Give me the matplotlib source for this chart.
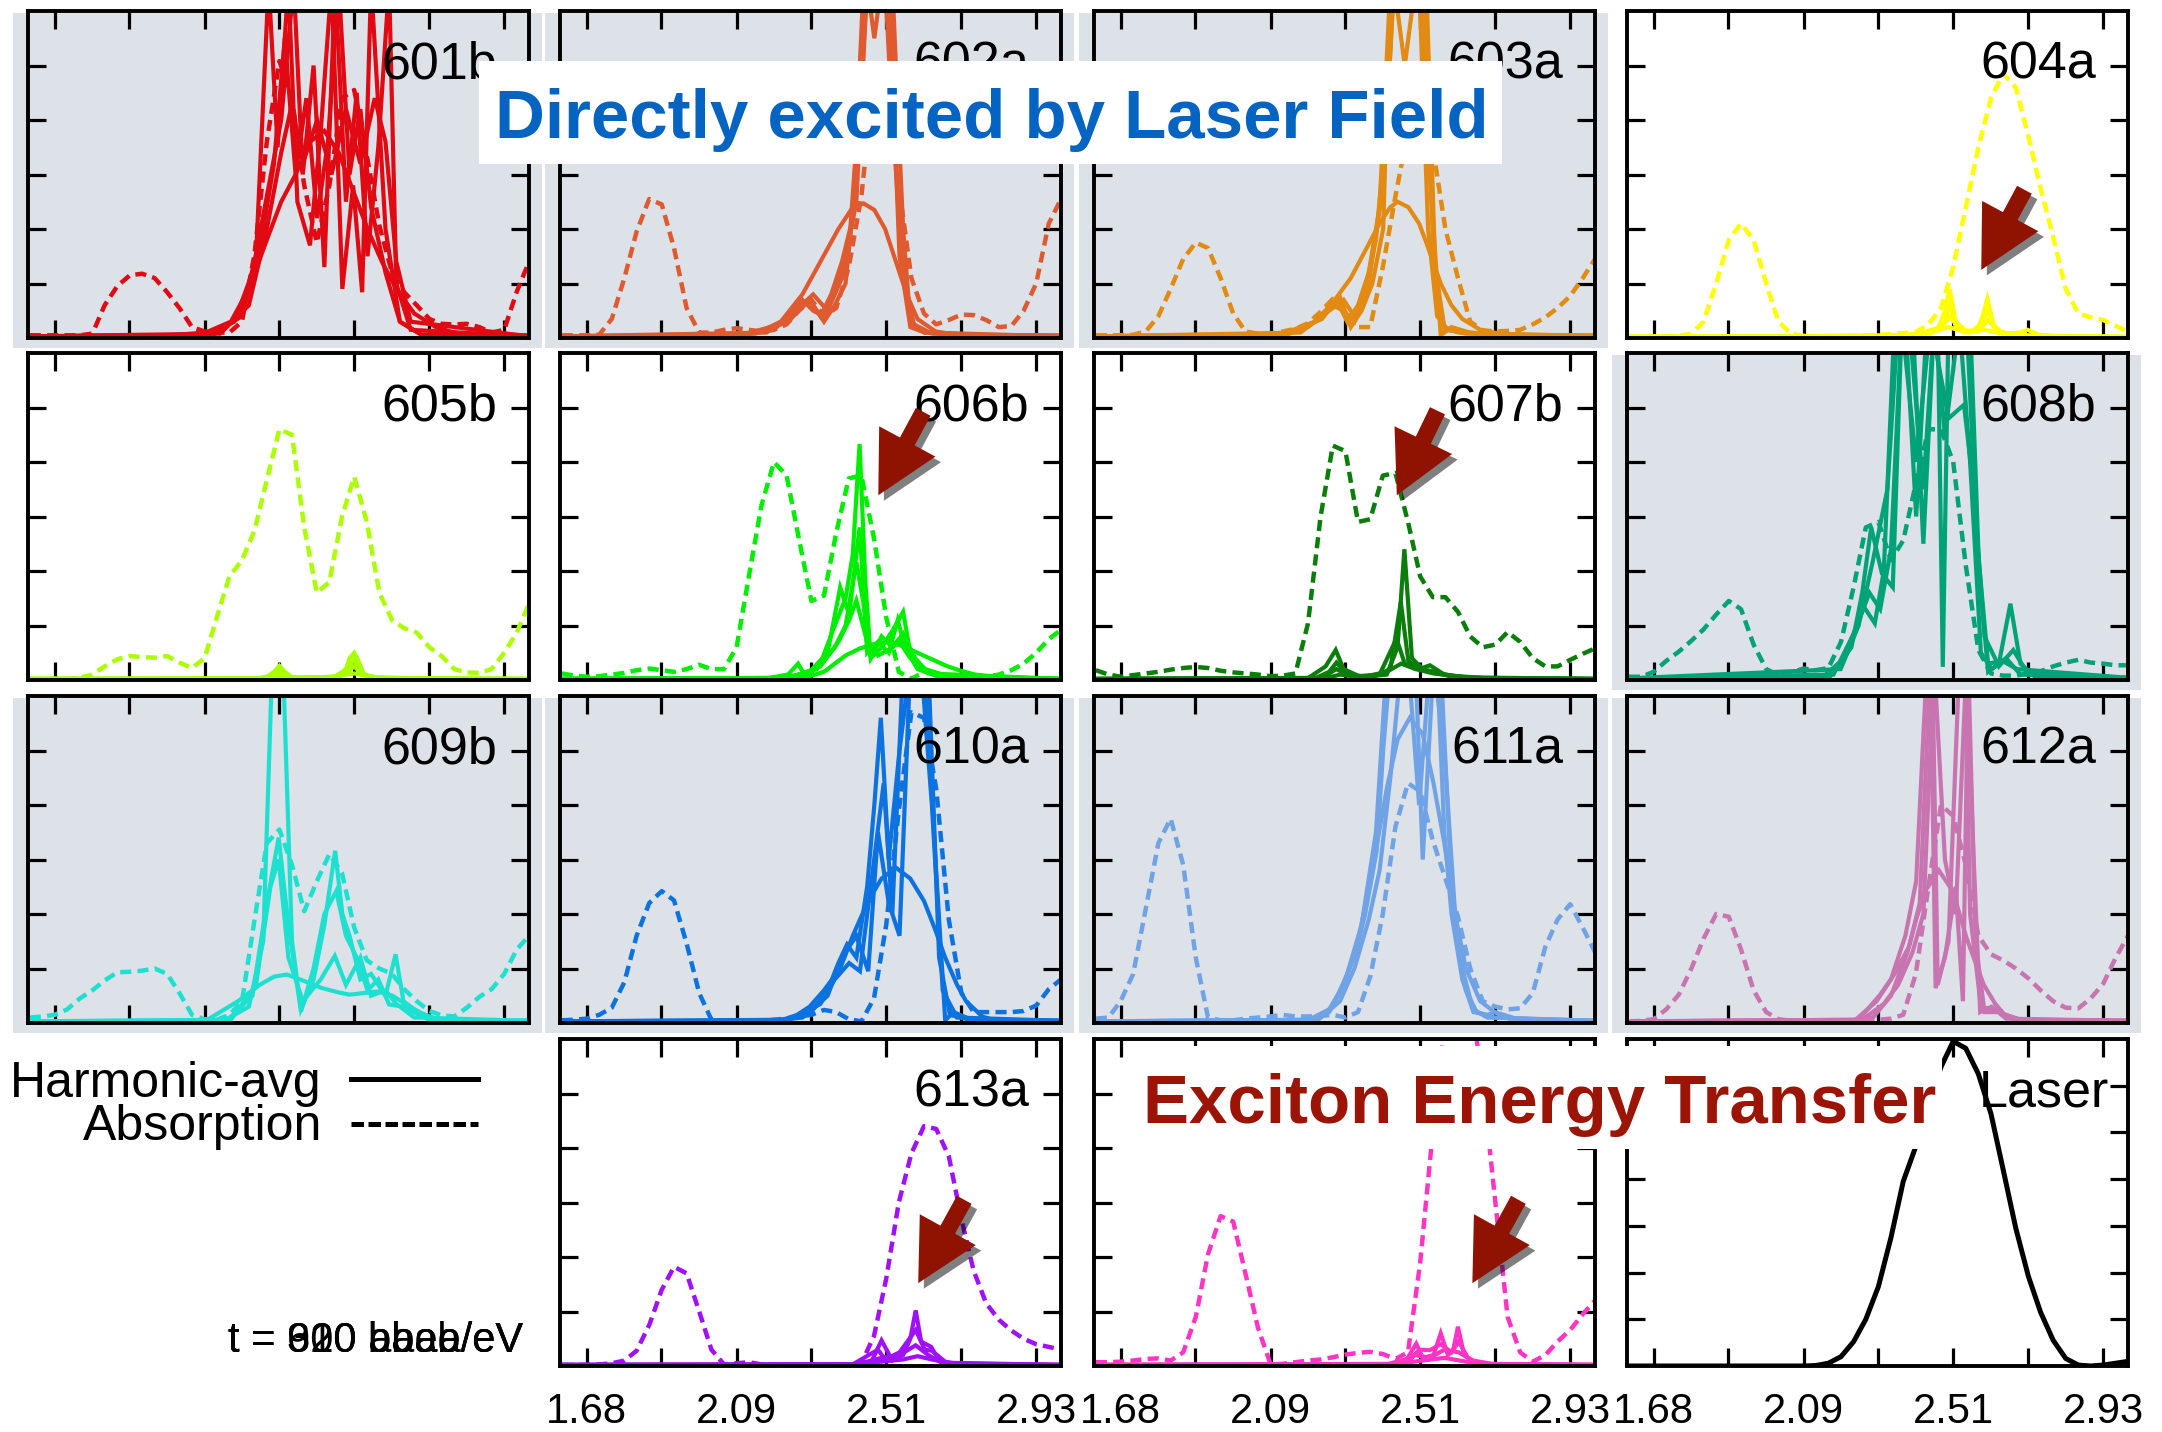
import matplotlib
matplotlib.use('Agg')
import matplotlib.pyplot as plt
from matplotlib.patches import Rectangle
from matplotlib.lines import Line2D
import matplotlib.patheffects as pe

plt.rcParams['font.family'] = ['Liberation Sans', 'DejaVu Sans']

W, H = 2162, 1432

# ---------------- data ----------------
ABS_X = [1.611, 1.646, 1.680, 1.715, 1.750, 1.785, 1.819, 1.854, 1.889, 1.923, 1.958,
         1.993, 2.027, 2.062, 2.097, 2.131, 2.166, 2.201, 2.236, 2.270, 2.305, 2.340,
         2.374, 2.409, 2.444, 2.479, 2.513, 2.548, 2.583, 2.618, 2.652, 2.687, 2.722,
         2.756, 2.791, 2.826, 2.861, 2.895, 2.930, 2.965, 2.999]

XTICKS = [1.680, 1.888, 2.097, 2.305, 2.513, 2.722, 2.930]
XTICK_LABELS = ['1.68', '', '2.09', '', '2.51', '', '2.93']

ABS_601B = [0.05, 0.05, 0.05, 0.05, 0.05, 0.08, 0.6, 0.95, 1.15, 1.18, 1.1, 0.84, 0.55, 0.2,
            0.12, 0.1, 0.1, 0.3, 1.55, 3.6, 5.08, 4.4, 2.8, 1.75, 2.8, 4.4, 4.55, 3.35, 2.06,
            1.2, 0.84, 0.6, 0.35, 0.26, 0.25, 0.26, 0.2, 0.1, 0.15, 0.85, 1.4]
ABS_602A = [0.05, 0.05, 0.05, 0.06, 0.35, 1.1, 1.95, 2.55, 2.45, 1.65, 0.55, 0.1, 0.1, 0.15,
            0.18, 0.15, 0.12, 0.15, 0.25, 0.5, 0.7, 0.4, 0.55, 1.3, 2.6, 4.8, 5.0, 2.8, 1.1,
            0.45, 0.25, 0.33, 0.43, 0.42, 0.33, 0.2, 0.22, 0.5, 1.0, 2.1, 2.55]
ABS_603A = [0.05, 0.05, 0.05, 0.06, 0.12, 0.4, 0.9, 1.45, 1.75, 1.65, 1.1, 0.45, 0.12, 0.08,
            0.08, 0.12, 0.17, 0.27, 0.48, 0.72, 0.62, 0.2, 0.2, 1.3, 2.6, 3.8, 4.2, 3.5, 2.0,
            1.1, 0.3, 0.14, 0.12, 0.13, 0.15, 0.25, 0.38, 0.55, 0.77, 1.1, 1.45]
ABS_604A = [0.03, 0.03, 0.03, 0.03, 0.04, 0.08, 0.3, 1.0, 1.8, 2.1, 1.8, 1.0, 0.3, 0.08,
            0.04, 0.03, 0.03, 0.03, 0.04, 0.05, 0.06, 0.07, 0.09, 0.11, 0.25, 0.55, 1.3, 2.4,
            3.5, 4.4, 4.85, 4.6, 3.7, 2.75, 1.85, 0.9, 0.45, 0.38, 0.33, 0.22, 0.12]
ABS_605B = [0.02, 0.02, 0.02, 0.02, 0.04, 0.1, 0.25, 0.38, 0.44, 0.42, 0.41, 0.44, 0.32, 0.22,
            0.4, 1.15, 1.9, 2.2, 2.75, 3.67, 4.6, 4.5, 2.8, 1.6, 1.8, 3.0, 3.73, 2.9, 1.6, 1.1,
            0.95, 0.87, 0.6, 0.44, 0.2, 0.14, 0.13, 0.2, 0.5, 0.87, 1.4]
ABS_606B = [0.12, 0.08, 0.06, 0.07, 0.1, 0.13, 0.18, 0.21, 0.18, 0.15, 0.2, 0.28, 0.2, 0.2,
            0.6, 1.9, 3.2, 4.0, 3.75, 2.6, 1.45, 1.55, 2.7, 3.7, 3.75, 2.6, 1.15, 0.15, 0.02,
            0.15, 0.14, 0.08, 0.06, 0.05, 0.06, 0.1, 0.18, 0.3, 0.5, 0.75, 0.92]
ABS_607B = [0.18, 0.1, 0.06, 0.09, 0.12, 0.15, 0.19, 0.22, 0.24, 0.22, 0.17, 0.14, 0.12, 0.1,
            0.07, 0.08, 0.12, 1.04, 3.0, 4.3, 4.2, 2.9, 2.95, 3.75, 3.8, 2.9, 1.9, 1.52, 1.52,
            1.25, 0.8, 0.6, 0.65, 0.88, 0.7, 0.4, 0.25, 0.25, 0.37, 0.48, 0.58]
ABS_608B = [0.06, 0.06, 0.15, 0.35, 0.52, 0.72, 0.93, 1.2, 1.45, 1.3, 0.65, 0.2, 0.09, 0.14,
            0.21, 0.18, 0.22, 0.7, 1.7, 2.8, 2.9, 2.2, 2.56, 3.6, 4.6, 4.6, 4.0, 2.1, 0.55, 0.12,
            0.08, 0.08, 0.12, 0.16, 0.25, 0.32, 0.37, 0.32, 0.3, 0.27, 0.27]
ABS_609B = [0.1, 0.12, 0.15, 0.25, 0.45, 0.6, 0.78, 0.93, 0.94, 0.96, 1.0, 0.9, 0.55, 0.15,
            0.07, 0.06, 0.15, 0.4, 1.9, 3.3, 3.55, 2.9, 2.05, 2.6, 3.1, 2.75, 1.75, 1.15, 1.0,
            0.9, 0.62, 0.4, 0.22, 0.14, 0.12, 0.28, 0.48, 0.62, 0.9, 1.35, 1.6]
ABS_610A = [0.05, 0.06, 0.08, 0.15, 0.28, 0.75, 1.6, 2.2, 2.42, 2.25, 1.46, 0.55, 0.06, 0.03,
            0.03, 0.03, 0.04, 0.06, 0.08, 0.12, 0.15, 0.24, 0.2, 0.07, 0.03, 0.45, 1.8, 3.9, 5.7,
            5.6, 4.3, 1.9, 0.55, 0.2, 0.2, 0.2, 0.2, 0.22, 0.32, 0.62, 0.8]
ABS_611A = [0.08, 0.1, 0.4, 0.9, 2.1, 3.3, 3.75, 2.9, 1.2, 0.1, 0.05, 0.05, 0.08, 0.1, 0.12,
            0.15, 0.12, 0.12, 0.13, 0.15, 0.1, 0.2, 0.85, 2.0, 3.6, 4.4, 4.25, 3.35, 2.65, 1.95,
            1.0, 0.4, 0.3, 0.25, 0.27, 0.55, 1.4, 1.9, 2.18, 1.75, 1.3]
ABS_612A = [0.03, 0.04, 0.07, 0.25, 0.52, 1.0, 1.55, 2.0, 1.95, 1.35, 0.6, 0.2, 0.07, 0.04,
            0.03, 0.03, 0.03, 0.03, 0.04, 0.05, 0.06, 0.08, 0.15, 0.9, 2.5, 4.0, 3.8, 2.9, 1.6,
            1.26, 1.15, 1.0, 0.82, 0.6, 0.4, 0.28, 0.27, 0.45, 0.72, 1.2, 1.6]
ABS_613A = [0.02, 0.02, 0.02, 0.03, 0.05, 0.1, 0.28, 0.75, 1.4, 1.82, 1.7, 1.0, 0.3, 0.03,
            0.05, 0.07, 0.03, 0.02, 0.02, 0.02, 0.02, 0.02, 0.03, 0.03, 0.05, 0.55, 1.6, 3.0,
            3.9, 4.4, 4.35, 3.85, 2.7, 1.75, 1.15, 0.85, 0.65, 0.5, 0.4, 0.35, 0.3]
ABS_614A = [0.07, 0.07, 0.08, 0.1, 0.13, 0.14, 0.1, 0.25, 0.9, 2.05, 2.75, 2.65, 1.7, 0.7,
            0.03, 0.04, 0.07, 0.1, 0.12, 0.16, 0.21, 0.24, 0.26, 0.22, 0.13, 0.25, 1.9, 4.3,
            6.4, 7.2, 6.8, 5.2, 3.0, 0.9, 0.25, 0.08, 0.2, 0.45, 0.66, 0.95, 1.2]
LASER = [0, 0, 0, 0, 0, 0, 0, 0, 0, 0, 0, 0, 0, 0, 0, 0.01, 0.06, 0.2, 0.52, 1.0, 1.7, 2.75,
         3.95, 4.7, 5.6, 6.4, 6.95, 6.8, 6.25, 5.4, 4.2, 2.95, 1.92, 1.15, 0.55, 0.16, 0.02,
         0.0, 0.02, 0.06, 0.1]

# harmonic-averaged spectra: (x, y) polylines per panel
HARM_601B = [
    ([1.61, 2.05, 2.15, 2.20, 2.24, 2.275, 2.30, 2.33, 2.355, 2.39, 2.42, 2.45, 2.48, 2.51, 2.535, 2.56, 2.60, 2.64, 2.70, 3.0],
     [0.03, 0.05, 0.15, 0.5, 1.5, 6.5, 3.5, 6.5, 2.5, 1.7, 3.8, 6.5, 0.9, 2.8, 0.84, 6.5, 2.0, 0.3, 0.06, 0.03]),
    ([1.61, 2.10, 2.18, 2.23, 2.27, 2.31, 2.345, 2.37, 2.40, 2.43, 2.46, 2.49, 2.52, 2.55, 2.58, 2.61, 2.63, 2.67, 3.0],
     [0.03, 0.05, 0.3, 1.2, 2.6, 4.0, 6.5, 3.0, 5.0, 1.3, 6.5, 2.5, 4.5, 1.5, 3.5, 6.5, 1.0, 0.15, 0.03]),
    ([1.61, 2.12, 2.20, 2.25, 2.29, 2.32, 2.35, 2.38, 2.41, 2.44, 2.47, 2.50, 2.53, 2.56, 2.60, 2.64, 2.70, 3.0],
     [0.03, 0.06, 0.4, 1.6, 3.2, 5.5, 3.0, 4.4, 2.2, 3.6, 6.5, 3.0, 4.2, 2.4, 1.2, 0.3, 0.06, 0.03]),
    ([1.61, 2.14, 2.22, 2.27, 2.31, 2.34, 2.37, 2.41, 2.45, 2.49, 2.53, 2.57, 2.60, 2.63, 2.67, 3.0],
     [0.03, 0.08, 0.6, 2.0, 3.4, 4.3, 3.2, 4.0, 3.0, 4.2, 3.2, 4.4, 3.6, 1.4, 0.3, 0.03]),
    ([1.61, 2.00, 2.10, 2.17, 2.22, 2.27, 2.31, 2.35, 2.39, 2.43, 2.47, 2.51, 2.55, 2.59, 2.63, 2.68, 2.74, 2.80, 3.0],
     [0.03, 0.05, 0.1, 0.3, 0.9, 1.8, 2.5, 3.0, 3.6, 3.8, 3.4, 2.7, 2.0, 1.4, 0.9, 0.45, 0.2, 0.08, 0.05]),
]
HARM_602A = [
    ([1.61, 2.10, 2.20, 2.26, 2.30, 2.34, 2.37, 2.40, 2.43, 2.46, 2.49, 2.51, 2.53, 2.56, 2.58, 2.62, 2.70, 2.80, 3.0],
     [0.03, 0.04, 0.15, 0.5, 0.7, 0.3, 0.6, 1.0, 3.0, 6.5, 6.5, 6.5, 6.5, 2.0, 0.3, 0.1, 0.08, 0.05, 0.05]),
    ([1.61, 2.10, 2.22, 2.28, 2.31, 2.34, 2.38, 2.41, 2.44, 2.46, 2.48, 2.50, 2.52, 2.55, 2.58, 2.62, 2.72, 3.0],
     [0.03, 0.04, 0.25, 0.7, 0.5, 0.4, 1.0, 1.7, 4.5, 6.5, 5.5, 6.5, 6.5, 1.5, 0.2, 0.1, 0.06, 0.04]),
    ([1.61, 2.12, 2.24, 2.30, 2.33, 2.36, 2.39, 2.42, 2.45, 2.48, 2.51, 2.53, 2.56, 2.59, 2.64, 3.0],
     [0.03, 0.05, 0.3, 0.7, 0.4, 0.8, 1.4, 2.2, 6.5, 6.5, 6.5, 4.0, 1.2, 0.25, 0.08, 0.03]),
    ([1.61, 2.15, 2.22, 2.28, 2.33, 2.38, 2.42, 2.45, 2.48, 2.51, 2.54, 2.57, 2.60, 2.65, 2.72, 3.0],
     [0.03, 0.08, 0.3, 0.8, 1.4, 2.0, 2.4, 2.47, 2.35, 2.0, 1.4, 0.8, 0.35, 0.12, 0.05, 0.03]),
    ([1.61, 2.18, 2.26, 2.31, 2.35, 2.39, 2.43, 2.46, 2.49, 2.52, 2.55, 2.58, 2.62, 3.0],
     [0.03, 0.1, 0.5, 0.8, 0.5, 1.1, 2.5, 6.5, 6.5, 6.5, 1.8, 0.3, 0.1, 0.03]),
]
HARM_603A = [
    ([1.61, 2.10, 2.20, 2.25, 2.29, 2.32, 2.35, 2.38, 2.41, 2.43, 2.46, 2.49, 2.52, 2.54, 2.57, 2.60, 2.65, 2.75, 3.0],
     [0.03, 0.04, 0.2, 0.45, 0.75, 0.2, 0.5, 1.0, 2.0, 6.5, 6.5, 6.5, 6.5, 3.0, 0.05, 0.2, 0.1, 0.06, 0.05]),
    ([1.61, 2.12, 2.22, 2.27, 2.30, 2.33, 2.36, 2.39, 2.42, 2.44, 2.47, 2.50, 2.53, 2.555, 2.58, 2.62, 2.70, 3.0],
     [0.03, 0.05, 0.3, 0.6, 0.5, 0.3, 0.9, 1.8, 4.0, 6.5, 5.0, 6.5, 6.5, 1.2, 0.15, 0.12, 0.06, 0.04]),
    ([1.61, 2.14, 2.24, 2.28, 2.31, 2.34, 2.37, 2.40, 2.43, 2.45, 2.48, 2.51, 2.535, 2.56, 2.59, 2.64, 3.0],
     [0.03, 0.06, 0.35, 0.7, 0.3, 0.6, 1.2, 2.4, 6.5, 6.5, 6.5, 6.5, 2.0, 0.4, 0.15, 0.08, 0.03]),
    ([1.61, 2.15, 2.22, 2.27, 2.32, 2.36, 2.40, 2.43, 2.45, 2.48, 2.51, 2.53, 2.57, 2.60, 2.63, 2.68, 2.75, 3.0],
     [0.03, 0.08, 0.3, 0.65, 1.1, 1.6, 2.1, 2.4, 2.5, 2.4, 2.1, 1.75, 1.0, 0.6, 0.35, 0.15, 0.06, 0.03]),
    ([1.61, 2.18, 2.26, 2.30, 2.33, 2.37, 2.41, 2.44, 2.47, 2.50, 2.52, 2.55, 2.58, 2.62, 3.0],
     [0.03, 0.1, 0.5, 0.7, 0.4, 1.0, 2.8, 6.5, 6.5, 6.5, 6.5, 1.5, 0.2, 0.1, 0.03]),
]
HARM_604A = [
    ([1.61, 2.30, 2.42, 2.47, 2.49, 2.503, 2.52, 2.55, 2.58, 2.595, 2.608, 2.625, 2.65, 2.70, 2.80, 3.0],
     [0.02, 0.03, 0.06, 0.15, 0.5, 0.9, 0.3, 0.12, 0.15, 0.4, 0.72, 0.25, 0.08, 0.05, 0.03, 0.02]),
    ([1.61, 2.35, 2.45, 2.49, 2.505, 2.52, 2.56, 2.59, 2.61, 2.63, 2.68, 3.0],
     [0.02, 0.03, 0.08, 0.3, 0.65, 0.2, 0.1, 0.25, 0.52, 0.15, 0.05, 0.02]),
    ([1.61, 2.40, 2.48, 2.505, 2.53, 2.58, 2.61, 2.64, 2.70, 3.0],
     [0.02, 0.05, 0.2, 0.4, 0.15, 0.12, 0.33, 0.1, 0.04, 0.02]),
    ([1.61, 2.30, 2.40, 2.46, 2.50, 2.55, 2.60, 2.65, 2.70, 2.72, 2.75, 2.80, 3.0],
     [0.02, 0.04, 0.07, 0.12, 0.2, 0.1, 0.15, 0.08, 0.1, 0.15, 0.06, 0.03, 0.02]),
]
HARM_605B = [
    ([1.61, 2.20, 2.27, 2.29, 2.305, 2.32, 2.34, 2.40, 2.46, 2.49, 2.50, 2.513, 2.525, 2.54, 2.58, 2.70, 3.0],
     [0.02, 0.02, 0.05, 0.15, 0.26, 0.15, 0.05, 0.04, 0.06, 0.2, 0.4, 0.5, 0.35, 0.1, 0.04, 0.02, 0.02]),
    ([1.61, 2.25, 2.29, 2.305, 2.32, 2.36, 2.46, 2.495, 2.513, 2.53, 2.56, 3.0],
     [0.02, 0.03, 0.1, 0.2, 0.08, 0.03, 0.05, 0.2, 0.38, 0.15, 0.04, 0.02]),
    ([1.61, 2.26, 2.305, 2.34, 2.47, 2.50, 2.513, 2.535, 2.58, 3.0],
     [0.02, 0.03, 0.12, 0.04, 0.05, 0.18, 0.25, 0.1, 0.03, 0.02]),
    ([1.61, 2.25, 2.305, 2.36, 2.45, 2.513, 2.57, 2.70, 3.0],
     [0.02, 0.03, 0.07, 0.04, 0.06, 0.12, 0.05, 0.03, 0.02]),
]
HARM_606B = [
    ([1.61, 2.18, 2.24, 2.268, 2.29, 2.33, 2.37, 2.40, 2.42, 2.439, 2.455, 2.47, 2.50, 2.53, 2.56, 2.58, 2.62, 2.68, 2.80, 3.0],
     [0.02, 0.03, 0.1, 0.3, 0.05, 0.3, 1.0, 1.5, 2.3, 4.33, 1.8, 0.4, 0.6, 0.9, 1.25, 0.5, 0.2, 0.08, 0.03, 0.02]),
    ([1.61, 2.22, 2.30, 2.35, 2.385, 2.41, 2.439, 2.46, 2.49, 2.52, 2.545, 2.565, 2.60, 2.66, 3.0],
     [0.02, 0.03, 0.15, 0.5, 1.7, 1.2, 2.8, 0.5, 0.7, 0.5, 1.1, 0.6, 0.2, 0.06, 0.02]),
    ([1.61, 2.24, 2.32, 2.37, 2.40, 2.43, 2.45, 2.47, 2.50, 2.53, 2.56, 2.60, 2.65, 3.0],
     [0.02, 0.04, 0.2, 0.6, 1.0, 2.16, 1.4, 0.4, 0.8, 0.6, 0.85, 0.3, 0.08, 0.02]),
    ([1.61, 2.25, 2.33, 2.38, 2.41, 2.43, 2.46, 2.49, 2.52, 2.55, 2.58, 2.63, 3.0],
     [0.02, 0.04, 0.25, 0.7, 1.1, 1.46, 0.7, 0.45, 0.55, 0.7, 0.4, 0.12, 0.02]),
    ([1.61, 2.20, 2.29, 2.34, 2.37, 2.40, 2.44, 2.48, 2.52, 2.56, 2.60, 2.64, 2.68, 2.72, 2.76, 2.82, 3.0],
     [0.02, 0.03, 0.05, 0.15, 0.3, 0.45, 0.58, 0.66, 0.7, 0.62, 0.5, 0.38, 0.26, 0.17, 0.1, 0.05, 0.02]),
]
HARM_607B = [
    ([1.61, 2.20, 2.25, 2.278, 2.30, 2.35, 2.42, 2.45, 2.469, 2.49, 2.52, 2.55, 2.60, 2.70, 3.0],
     [0.02, 0.03, 0.25, 0.55, 0.2, 0.05, 0.1, 0.6, 2.4, 0.4, 0.2, 0.15, 0.06, 0.03, 0.02]),
    ([1.61, 2.22, 2.26, 2.28, 2.31, 2.38, 2.43, 2.459, 2.48, 2.51, 2.54, 2.58, 2.65, 3.0],
     [0.02, 0.03, 0.15, 0.32, 0.1, 0.05, 0.2, 1.43, 0.35, 0.2, 0.27, 0.1, 0.04, 0.02]),
    ([1.61, 2.24, 2.28, 2.32, 2.40, 2.447, 2.47, 2.50, 2.55, 2.62, 3.0],
     [0.02, 0.04, 0.2, 0.06, 0.1, 0.76, 0.3, 0.22, 0.15, 0.05, 0.02]),
    ([1.61, 2.25, 2.29, 2.35, 2.42, 2.46, 2.50, 2.55, 2.60, 2.70, 3.0],
     [0.02, 0.03, 0.1, 0.05, 0.15, 0.3, 0.2, 0.12, 0.08, 0.03, 0.02]),
]
HARM_608B = [
    ([1.61, 2.15, 2.21, 2.25, 2.265, 2.295, 2.32, 2.35, 2.38, 2.41, 2.44, 2.47, 2.484, 2.50, 2.56, 2.585, 2.61, 2.64, 2.672, 2.70, 2.74, 3.0],
     [0.03, 0.05, 0.4, 1.1, 1.34, 1.04, 2.0, 6.6, 6.6, 3.0, 6.6, 6.6, 0.24, 6.6, 6.6, 2.0, 0.15, 0.3, 1.4, 0.3, 0.06, 0.04]),
    ([1.61, 2.17, 2.23, 2.26, 2.285, 2.315, 2.345, 2.37, 2.40, 2.43, 2.46, 2.49, 2.53, 2.56, 2.59, 2.62, 2.66, 2.70, 3.0],
     [0.03, 0.06, 0.6, 1.6, 2.8, 1.95, 1.7, 6.6, 6.6, 2.5, 6.6, 4.5, 6.6, 4.0, 0.5, 0.2, 0.4, 0.1, 0.04]),
    ([1.61, 2.18, 2.24, 2.28, 2.31, 2.34, 2.37, 2.41, 2.45, 2.50, 2.543, 2.57, 2.60, 2.64, 2.68, 2.72, 3.0],
     [0.03, 0.1, 0.9, 1.6, 1.3, 2.4, 6.6, 4.0, 6.6, 4.8, 5.05, 3.5, 0.8, 0.25, 0.55, 0.12, 0.04]),
    ([1.61, 2.20, 2.25, 2.29, 2.33, 2.36, 2.39, 2.43, 2.46, 2.50, 2.55, 2.58, 2.61, 2.65, 2.69, 3.0],
     [0.03, 0.2, 1.0, 2.2, 3.5, 6.6, 6.6, 3.5, 6.6, 6.6, 6.6, 2.5, 0.3, 0.35, 0.2, 0.04]),
]
HARM_609B = [
    ([1.61, 2.15, 2.22, 2.26, 2.285, 2.30, 2.315, 2.34, 2.365, 2.40, 2.43, 2.46, 2.48, 2.50, 2.53, 2.56, 2.60, 2.628, 2.65, 2.70, 2.76, 3.0],
     [0.03, 0.04, 0.3, 1.5, 6.6, 6.6, 6.6, 1.5, 0.25, 0.8, 1.8, 3.16, 2.0, 1.6, 0.8, 0.9, 0.5, 1.26, 0.4, 0.15, 0.05, 0.04]),
    ([1.61, 2.16, 2.23, 2.27, 2.303, 2.33, 2.365, 2.40, 2.43, 2.463, 2.49, 2.52, 2.55, 2.58, 2.61, 2.65, 2.72, 3.0],
     [0.03, 0.05, 0.5, 2.2, 3.4, 1.8, 0.21, 1.0, 2.0, 2.42, 1.6, 1.2, 0.6, 0.8, 0.34, 0.3, 0.06, 0.04]),
    ([1.61, 2.17, 2.24, 2.28, 2.303, 2.33, 2.37, 2.42, 2.459, 2.49, 2.53, 2.56, 2.60, 2.63, 2.68, 3.0],
     [0.03, 0.06, 0.7, 2.5, 3.0, 1.2, 0.4, 0.8, 1.23, 0.7, 1.2, 0.5, 0.6, 0.35, 0.1, 0.04]),
    ([1.61, 2.10, 2.19, 2.25, 2.29, 2.326, 2.37, 2.424, 2.47, 2.50, 2.54, 2.58, 2.62, 2.657, 2.70, 2.735, 2.80, 3.0],
     [0.03, 0.04, 0.4, 0.7, 0.85, 0.89, 0.78, 0.64, 0.56, 0.52, 0.55, 0.58, 0.5, 0.34, 0.18, 0.09, 0.05, 0.04]),
]
HARM_610A = [
    ([1.61, 2.20, 2.28, 2.31, 2.35, 2.38, 2.404, 2.43, 2.46, 2.48, 2.498, 2.52, 2.55, 2.58, 2.62, 2.65, 2.677, 2.70, 2.75, 3.0],
     [0.03, 0.04, 0.1, 0.25, 0.6, 1.1, 1.44, 1.2, 2.5, 4.0, 5.6, 3.0, 5.0, 6.6, 6.6, 3.0, 0.05, 0.2, 0.06, 0.04]),
    ([1.61, 2.22, 2.29, 2.33, 2.37, 2.41, 2.44, 2.47, 2.506, 2.53, 2.56, 2.60, 2.63, 2.66, 2.69, 2.75, 3.0],
     [0.03, 0.05, 0.2, 0.35, 0.8, 1.1, 0.95, 2.5, 4.4, 2.0, 6.6, 6.6, 6.6, 1.2, 0.15, 0.05, 0.04]),
    ([1.61, 2.24, 2.30, 2.35, 2.39, 2.43, 2.463, 2.49, 2.52, 2.55, 2.58, 2.61, 2.64, 2.67, 2.71, 3.0],
     [0.03, 0.06, 0.2, 0.5, 1.2, 1.6, 0.95, 3.5, 2.2, 1.6, 6.6, 6.6, 4.0, 0.6, 0.1, 0.04]),
    ([1.61, 2.20, 2.249, 2.30, 2.34, 2.385, 2.42, 2.463, 2.50, 2.54, 2.58, 2.618, 2.65, 2.677, 2.71, 2.735, 2.78, 2.813, 3.0],
     [0.03, 0.04, 0.08, 0.3, 0.6, 1.0, 1.6, 2.24, 2.65, 2.85, 2.65, 2.24, 1.7, 1.2, 0.7, 0.4, 0.12, 0.05, 0.04]),
]
HARM_611A = [
    ([1.61, 2.20, 2.26, 2.30, 2.334, 2.36, 2.392, 2.41, 2.43, 2.46, 2.50, 2.53, 2.56, 2.58, 2.60, 2.63, 2.661, 2.70, 2.72, 2.76, 3.0],
     [0.03, 0.05, 0.2, 0.7, 1.3, 2.0, 3.16, 5.0, 6.6, 6.6, 6.6, 6.6, 6.6, 3.5, 2.0, 0.8, 0.2, 0.15, 0.2, 0.08, 0.04]),
    ([1.61, 2.22, 2.27, 2.31, 2.35, 2.39, 2.42, 2.45, 2.48, 2.51, 2.54, 2.57, 2.60, 2.63, 2.66, 2.70, 3.0],
     [0.03, 0.06, 0.3, 0.9, 1.8, 3.5, 6.6, 6.6, 6.6, 4.0, 6.6, 6.6, 2.5, 1.0, 0.25, 0.1, 0.04]),
    ([1.61, 2.23, 2.29, 2.33, 2.37, 2.40, 2.43, 2.46, 2.50, 2.52, 2.55, 2.58, 2.61, 2.64, 2.67, 2.72, 3.0],
     [0.03, 0.06, 0.4, 1.0, 1.9, 2.8, 4.5, 6.6, 6.6, 3.0, 6.6, 5.0, 2.0, 0.6, 0.2, 0.1, 0.04]),
    ([1.61, 2.20, 2.26, 2.30, 2.34, 2.38, 2.42, 2.45, 2.484, 2.52, 2.55, 2.58, 2.61, 2.64, 2.68, 2.72, 2.78, 3.0],
     [0.03, 0.05, 0.25, 0.7, 1.5, 2.8, 4.3, 5.2, 5.6, 5.3, 4.4, 3.3, 2.0, 1.0, 0.4, 0.2, 0.08, 0.04]),
]
HARM_612A = [
    ([1.61, 2.24, 2.30, 2.34, 2.38, 2.41, 2.44, 2.455, 2.47, 2.50, 2.53, 2.545, 2.56, 2.59, 2.62, 2.66, 2.70, 3.0],
     [0.03, 0.05, 0.4, 0.8, 1.6, 2.6, 6.6, 6.6, 0.7, 1.5, 6.6, 6.6, 2.0, 0.3, 0.25, 0.15, 0.06, 0.04]),
    ([1.61, 2.25, 2.31, 2.35, 2.39, 2.42, 2.45, 2.464, 2.49, 2.52, 2.54, 2.555, 2.575, 2.60, 2.64, 2.68, 3.0],
     [0.03, 0.06, 0.52, 0.9, 1.4, 2.2, 6.6, 0.64, 1.2, 2.5, 0.4, 6.6, 1.5, 0.2, 0.2, 0.06, 0.04]),
    ([1.61, 2.26, 2.32, 2.36, 2.40, 2.43, 2.46, 2.49, 2.52, 2.55, 2.57, 2.588, 2.62, 2.66, 3.0],
     [0.03, 0.06, 0.35, 0.7, 1.3, 2.0, 6.6, 3.0, 2.0, 6.6, 3.0, 0.2, 0.3, 0.08, 0.04]),
    ([1.61, 2.22, 2.29, 2.34, 2.386, 2.41, 2.435, 2.473, 2.512, 2.55, 2.598, 2.63, 2.656, 2.70, 3.0],
     [0.03, 0.04, 0.1, 0.5, 1.3, 1.9, 2.42, 2.8, 2.42, 1.56, 0.7, 0.35, 0.15, 0.06, 0.04]),
]
HARM_613A = [
    ([1.61, 2.40, 2.47, 2.50, 2.53, 2.56, 2.58, 2.595, 2.61, 2.638, 2.66, 2.70, 2.80, 3.0],
     [0.02, 0.02, 0.05, 0.47, 0.1, 0.2, 0.5, 1.02, 0.45, 0.35, 0.1, 0.05, 0.02, 0.02]),
    ([1.61, 2.42, 2.49, 2.51, 2.55, 2.595, 2.62, 2.64, 2.68, 3.0],
     [0.02, 0.03, 0.3, 0.12, 0.25, 0.66, 0.3, 0.28, 0.06, 0.02]),
    ([1.61, 2.43, 2.50, 2.55, 2.595, 2.63, 2.67, 3.0],
     [0.02, 0.03, 0.15, 0.2, 0.38, 0.2, 0.05, 0.02]),
    ([1.61, 2.44, 2.50, 2.56, 2.60, 2.64, 2.70, 3.0],
     [0.02, 0.03, 0.08, 0.12, 0.18, 0.12, 0.04, 0.02]),
]
HARM_614A = [
    ([1.61, 2.40, 2.47, 2.502, 2.52, 2.55, 2.57, 2.59, 2.605, 2.618, 2.635, 2.66, 2.70, 3.0],
     [0.02, 0.02, 0.06, 0.41, 0.15, 0.2, 0.6, 0.2, 0.3, 0.72, 0.2, 0.08, 0.03, 0.02]),
    ([1.61, 2.42, 2.49, 2.51, 2.54, 2.57, 2.60, 2.62, 2.65, 2.70, 3.0],
     [0.02, 0.03, 0.15, 0.3, 0.29, 0.4, 0.25, 0.45, 0.1, 0.04, 0.02]),
    ([1.61, 2.44, 2.50, 2.54, 2.58, 2.62, 2.66, 2.72, 3.0],
     [0.02, 0.03, 0.2, 0.15, 0.3, 0.25, 0.1, 0.03, 0.02]),
    ([1.61, 2.45, 2.52, 2.58, 2.64, 2.70, 3.0],
     [0.02, 0.04, 0.1, 0.15, 0.08, 0.03, 0.02]),
]

# arrows: (tip_x, tip_y, tail_x, tail_y) in data units
ARROWS = {
    '604a': (2.591, 1.25, 2.711, 2.72),
    '606b': (2.491, 3.39, 2.616, 4.92),
    '607b': (2.448, 3.39, 2.561, 4.94),
    '613a': (2.602, 1.52, 2.730, 3.05),
    '614a': (2.658, 1.52, 2.786, 3.05),
}

# name, row, col, color, gray card, absorption, harmonic, show label
PANELS = [
    ('601b', 0, 0, '#e20a12', True, ABS_601B, HARM_601B, True),
    ('602a', 0, 1, '#e05a30', True, ABS_602A, HARM_602A, True),
    ('603a', 0, 2, '#e28a12', True, ABS_603A, HARM_603A, True),
    ('604a', 0, 3, '#ffff00', False, ABS_604A, HARM_604A, True),
    ('605b', 1, 0, '#aaff00', False, ABS_605B, HARM_605B, True),
    ('606b', 1, 1, '#00ee00', False, ABS_606B, HARM_606B, True),
    ('607b', 1, 2, '#0a7d0a', False, ABS_607B, HARM_607B, True),
    ('608b', 1, 3, '#00a377', True, ABS_608B, HARM_608B, True),
    ('609b', 2, 0, '#1de0d0', True, ABS_609B, HARM_609B, True),
    ('610a', 2, 1, '#0b72e0', True, ABS_610A, HARM_610A, True),
    ('611a', 2, 2, '#6fa3e6', True, ABS_611A, HARM_611A, True),
    ('612a', 2, 3, '#c774b0', True, ABS_612A, HARM_612A, True),
    ('613a', 3, 1, '#a010f8', False, ABS_613A, HARM_613A, True),
    ('614a', 3, 2, '#ff33c4', False, ABS_614A, HARM_614A, False),
]

# ---------------- layout (pixels) ----------------
COL_L = [28, 560, 1094, 1627]
ROW_T = [11, 353, 696, 1039]
AX_W, AX_H = 501, 327
GRAY = '#dde1e8'
ARROW_COLOR = '#8f1300'
DASH = (0, (2.5, 1.4))

fig = plt.figure(figsize=(W / 100, H / 100), dpi=100)


def frac_rect(x0, y0, x1, y1):
    return (x0 / W, 1 - y1 / H), (x1 - x0) / W, (y1 - y0) / H


def style_axes(ax, row, ymax):
    ax.set_xlim(1.606, 2.999)
    ax.set_ylim(0, ymax)
    ax.set_xticks(XTICKS)
    if row == 3:
        ax.set_xticklabels(XTICK_LABELS)
    else:
        ax.set_xticklabels([])
    ax.set_yticks(list(range(1, ymax)))
    ax.set_yticklabels([])
    ax.tick_params(axis='both', direction='in', length=13, width=2.3, top=True,
                   right=True, labelleft=False, labelbottom=(row == 3),
                   labelsize=30, pad=19, colors='black')
    for sp in ax.spines.values():
        sp.set_linewidth(2.8)
        sp.set_color('black')


def make_axes(row, col, gray):
    L, T = COL_L[col], ROW_T[row]
    if gray:
        (x, y), w, h = frac_rect(L - 15, T + 2, L + AX_W + 13, T + AX_H + 10)
        fig.add_artist(Rectangle((x, y), w, h, transform=fig.transFigure,
                                 facecolor=GRAY, edgecolor='none', zorder=-5))
    ax = fig.add_axes([L / W, 1 - (T + AX_H) / H, AX_W / W, AX_H / H])
    ax.set_facecolor('none')
    return ax


for name, row, col, color, gray, absy, harm, show in PANELS:
    ax = make_axes(row, col, gray)
    for hx, hy in harm:
        n = min(len(hx), len(hy))
        ax.plot(hx[:n], hy[:n], color=color, lw=3.0, solid_joinstyle='miter')
    n = min(len(ABS_X), len(absy))
    ax.plot(ABS_X[:n], absy[:n], color=color, lw=3.2, linestyle=DASH)
    style_axes(ax, row, 6)
    if show:
        ax.text(0.936, 0.795, name, transform=ax.transAxes, ha='right',
                va='baseline', fontsize=37.5, color='black', zorder=6)
    if name in ARROWS:
        tx, ty, sx, sy = ARROWS[name]
        ax.annotate('', xy=(tx, ty), xytext=(sx, sy),
                    arrowprops=dict(arrowstyle='simple,head_length=1.1,head_width=1.15,tail_width=0.3',
                                    facecolor=ARROW_COLOR, edgecolor='none',
                                    shrinkA=0, shrinkB=0, mutation_scale=40,
                                    path_effects=[pe.SimplePatchShadow(offset=(4, -4), shadow_rgbFace='black', alpha=0.5),
                                                  pe.Normal()]),
                    zorder=8)

# laser panel
axl = make_axes(3, 3, False)
n = min(len(ABS_X), len(LASER))
axl.plot(ABS_X[:n], LASER[:n], color='black', lw=3.6)
style_axes(axl, 3, 7)
axl.text(0.962, 0.795, 'Laser', transform=axl.transAxes, ha='right', va='baseline',
         fontsize=37.5, color='black', zorder=6)

# legend block
fig.text(322 / W, 1 - 1097 / H, 'Harmonic-avg', ha='right', va='baseline', fontsize=36)
fig.text(322 / W, 1 - 1140 / H, 'Absorption', ha='right', va='baseline', fontsize=36)
fig.add_artist(Line2D([351 / W, 478 / W], [1 - 1079 / H, 1 - 1079 / H], transform=fig.transFigure,
                      color='black', lw=3.6))
fig.add_artist(Line2D([351 / W, 478 / W], [1 - 1124 / H, 1 - 1124 / H], transform=fig.transFigure,
                      color='black', lw=3.6, linestyle=(0, (2.5, 0.9))))

for s in ['t = 900 bbae/eV', 't = 620 abea/eV', 't = 310 baab/eV']:
    fig.text(228 / W, 1 - 1352 / H, s, ha='left', va='baseline', fontsize=30, color='black')

# headline boxes
(x, y), w, h = frac_rect(479, 61, 1502, 164)
fig.add_artist(Rectangle((x, y), w, h, transform=fig.transFigure, facecolor='white',
                         edgecolor='none', zorder=10))
fig.text(495 / W, 1 - 138 / H, 'Directly excited by Laser Field', ha='left', va='baseline',
         fontsize=49.7, fontweight='bold', color='#0563c1', zorder=11)

(x, y), w, h = frac_rect(1125, 1046, 1942, 1149)
fig.add_artist(Rectangle((x, y), w, h, transform=fig.transFigure, facecolor='white',
                         edgecolor='none', zorder=10))
fig.text(1143 / W, 1 - 1123 / H, 'Exciton Energy Transfer', ha='left', va='baseline',
         fontsize=49.7, fontweight='bold', color='#9b1406', zorder=11)

fig.savefig('out.png', dpi=100, facecolor='white')
